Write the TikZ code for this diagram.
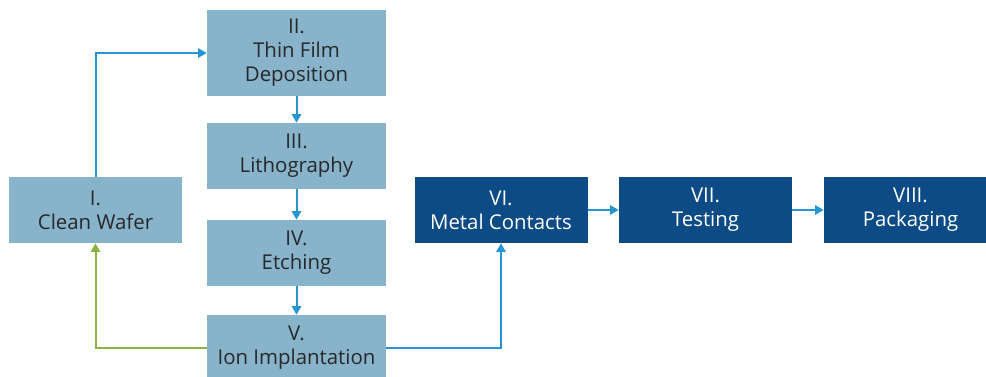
\documentclass[tikz,border=0pt]{standalone}
\usepackage{fontspec}
\setmainfont{Open Sans}
\usetikzlibrary{arrows.meta}

\definecolor{stepLight}{RGB}{135,179,203}
\definecolor{stepDark}{RGB}{12,75,134}
\definecolor{flowBlue}{RGB}{37,150,210}
\definecolor{flowGreen}{RGB}{138,182,63}
\definecolor{stepText}{RGB}{40,40,40}

\begin{document}
\begin{tikzpicture}[x=0.75pt, y=-0.75pt,
    box/.style={rectangle, inner sep=0pt, align=center,
      minimum width=134.25pt, minimum height=49.5pt,
      font=\fontsize{15.3}{18}\selectfont},
    lightbox/.style={box, fill=stepLight, text=stepText},
    darkbox/.style={box, fill=stepDark, text=white, minimum width=129.75pt},
    flow/.style={draw=flowBlue, line width=1.5pt,
      -{Triangle[length=6.5pt,width=7pt]}},
    back/.style={flow, draw=flowGreen}]
  \useasboundingbox (0, 0) rectangle (986, 376);

  \node[lightbox, minimum width=129.75pt] (S1) at (95.5, 210) {I.\\Clean Wafer};
  \node[lightbox, minimum height=64.5pt] (S2) at (296.5, 53) {II.\\Thin Film\\Deposition};
  \node[lightbox] (S3) at (296.5, 156) {III.\\Lithography};
  \node[lightbox] (S4) at (296.5, 253) {IV.\\Etching};
  \node[lightbox] (S5) at (296.5, 348) {V.\\Ion Implantation};

  \node[darkbox] (S6) at (501, 210) {VI.\\Metal Contacts};
  \node[darkbox] (S7) at (705.5, 210) {VII.\\Testing};
  \node[darkbox] (S8) at (910.5, 210) {VIII.\\Packaging};

  \draw[flow] (S1.north) |- (S2.west);
  \draw[flow] (S2) -- (S3);
  \draw[flow] (S3) -- (S4);
  \draw[flow] (S4) -- (S5);
  \draw[back] (S5.west) -| (S1.south);
  \draw[flow] (S5.east) -| (S6.south);
  \draw[flow] (S6) -- (S7);
  \draw[flow] (S7) -- (S8);
\end{tikzpicture}
\end{document}
